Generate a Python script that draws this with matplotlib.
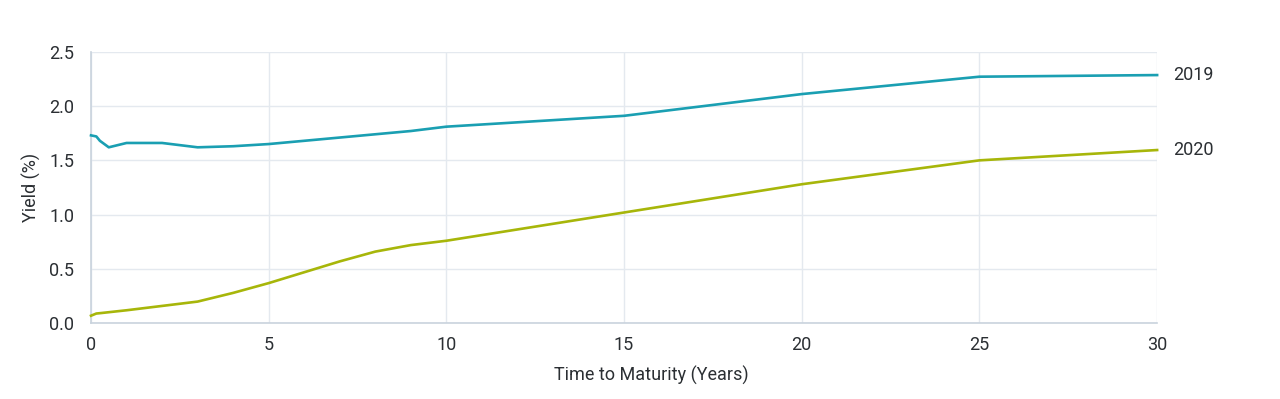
import matplotlib.pyplot as plt

plt.rcParams['font.family'] = ['Roboto', 'DejaVu Sans']

# Yield curves (years to maturity, yield %)
years_2019 = [0.0, 0.15, 0.25, 0.5, 1, 2, 3, 4, 5, 6, 7, 8, 9, 10, 15, 20, 25, 30]
yield_2019 = [1.73, 1.72, 1.68, 1.62, 1.66, 1.66, 1.62, 1.63, 1.65, 1.68, 1.71, 1.74, 1.77, 1.81, 1.91, 2.11, 2.27, 2.285]

years_2020 = [0.0, 0.15, 0.3, 1, 2, 3, 4, 5, 6, 7, 8, 9, 10, 15, 20, 25, 30]
yield_2020 = [0.07, 0.09, 0.095, 0.12, 0.16, 0.20, 0.28, 0.37, 0.47, 0.57, 0.66, 0.72, 0.76, 1.02, 1.28, 1.50, 1.595]

series = [("2019", years_2019, yield_2019, "#1a9fb2"),
          ("2020", years_2020, yield_2020, "#a7b60a")]

x_ticks = [0, 5, 10, 15, 20, 25, 30]
y_ticks = [0.0, 0.5, 1.0, 1.5, 2.0, 2.5]

fs = 13
txt = '#2b2f33'

fig = plt.figure(figsize=(12.8, 3.99), dpi=100)
ax = fig.add_axes([0.0711, 0.1897, 0.8329, 0.6807])

for name, xs, ys, col in series:
    ax.plot(xs, ys, color=col, lw=1.9, solid_joinstyle='round', clip_on=False, zorder=3)
    ax.text(30.45, ys[-1], name, ha='left', va='center', fontsize=fs, color=txt)

ax.set_xlim(0, 30)
ax.set_ylim(0, 2.5)
ax.set_xticks(x_ticks)
ax.set_yticks(y_ticks)
ax.set_yticklabels([f"{v:.1f}" for v in y_ticks])
ax.grid(True, color='#e4e9ef', lw=1.0)
ax.set_axisbelow(True)

for side in ['top', 'right']:
    ax.spines[side].set_visible(False)
for side in ['left', 'bottom']:
    ax.spines[side].set_color('#c9d3dd')
    ax.spines[side].set_linewidth(1.2)

ax.tick_params(length=0, labelsize=fs, labelcolor=txt)
ax.tick_params(axis='y', pad=12)
ax.tick_params(axis='x', pad=9)
ax.set_xlabel('Time to Maturity (Years)', fontsize=fs, color=txt, labelpad=7)
ax.set_ylabel('Yield (%)', fontsize=fs, color=txt, labelpad=6)
ax.xaxis.set_label_coords(0.526, -0.155)

fig.savefig('out.png', dpi=100)
